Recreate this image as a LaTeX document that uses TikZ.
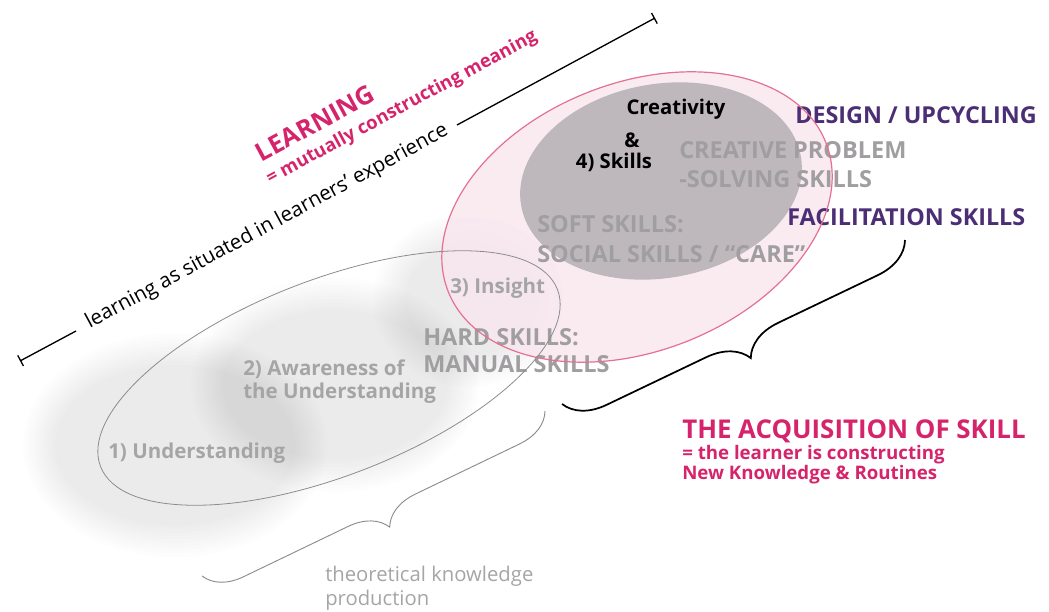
\documentclass[tikz,border=0pt]{standalone}
\usepackage{fontspec}
\setmainfont{Open Sans}
\usepackage{xcolor}
\usetikzlibrary{decorations.pathreplacing,arrows.meta}

\definecolor{inkpink}{RGB}{214,36,108}
\definecolor{inkpurple}{RGB}{76,46,116}
\definecolor{skillgrey}{RGB}{160,158,160}
\definecolor{stagegrey}{RGB}{165,165,165}
\definecolor{rimgrey}{RGB}{140,140,140}
\definecolor{rimpink}{RGB}{228,112,146}
\definecolor{blushfill}{RGB}{249,231,239}
\definecolor{corefill}{RGB}{190,184,188}

\begin{document}
\begin{tikzpicture}[
  x=0.75pt, y=-0.75pt,
  haze/.style={fill=black, fill opacity=0.0075, draw=none},
  skill/.style={font=\bfseries\fontsize{17.6pt}{#1}\selectfont, text=skillgrey, align=left, anchor=base west, inner sep=0pt},
  stage/.style={font=\bfseries\fontsize{15.4pt}{17.25pt}\selectfont, text=stagegrey, align=left, anchor=base west, inner sep=0pt},
  core/.style={font=\bfseries\fontsize{15.2pt}{18pt}\selectfont, text=black, anchor=base, inner sep=0pt},
  aim/.style={font=\bfseries\fontsize{17.5pt}{21pt}\selectfont, text=inkpurple, anchor=base west, inner sep=0pt},
  slant/.style={rotate=28.4, inner sep=0pt},
  brace/.style={decorate, decoration={brace, amplitude=#1}},
]
\useasboundingbox (0,0) rectangle (1049,611);

% Background haze
\foreach \cx/\cy/\rx/\ry in {175/445/152/112, 335/385/144/107, 470/300/97/87}
  \foreach \k in {0,...,9}
    \path[haze] (\cx,\cy) ellipse ({\rx-3.5*\k} and {\ry-3.5*\k});

% Skill zone
\path[fill=blushfill, fill opacity=0.85, rotate around={21.5:(637,217)}] (637,217) ellipse (203 and 134);
\path[fill=corefill, rotate around={10:(661,181)}] (661,181) ellipse (142 and 97);

% Texts
\node[core] (creat) at (676,114) {Creativity};
\node[core] (amp) at (632,147) {\&};
\node[core] (four) at (614,168) {4) Skills};
\node[skill=21.75pt] (cps) at (679,187) {CREATIVE PROBLEM\\-SOLVING SKILLS};
\node[skill=22.5pt] (soft) at (537,262) {SOFT SKILLS:\\SOCIAL SKILLS / “CARE”};
\node[skill=20.25pt] (hard) at (423,372) {HARD SKILLS:\\MANUAL SKILLS};
\node[aim] (design) at (795,123) {DESIGN / UPCYCLING};
\node[aim] (facil) at (787,225) {FACILITATION SKILLS};
\node[stage] (insight) at (450,293) {3) Insight};
\node[stage] (aware) at (243,398) {2) Awareness of\\the Understanding};
\node[stage] (under) at (108,458) {1) Understanding};

% Outlines
\draw[rimgrey, line width=0.6pt, rotate around={21.2:(329,378)}] (329,378) ellipse (245 and 98);
\draw[rimpink, line width=0.9pt, rotate around={21.5:(637,217)}] (637,217) ellipse (203 and 134);

% Learning axis
\coordinate (axA) at (20,361);
\coordinate (axB) at (76,331);
\coordinate (axC) at (457,125);
\coordinate (axD) at (655,18);
\draw[line width=1pt, {Bar[width=9pt]}-] (axA) -- (axB);
\draw[line width=1pt, -{Bar[width=9pt]}] (axC) -- (axD);
\node[slant, font=\fontsize{15.4pt}{18pt}\selectfont] (situated) at (267,227) {learning as situated in learners’ experience};
\node[slant, font=\bfseries\fontsize{19pt}{22pt}\selectfont, text=inkpink] (learning) at (315,123) {LEARNING};
\node[slant, font=\bfseries\fontsize{13.8pt}{16pt}\selectfont, text=inkpink] (mutual) at (402,108) {= mutually constructing meaning};

% Braces
\coordinate (skR) at (905,240);
\coordinate (skL) at (562,404);
\coordinate (thR) at (545,411);
\coordinate (thL) at (202,576);
\draw[brace=30pt, line width=1.3pt] (skR) -- (skL);
\draw[brace=28pt, rimgrey, line width=0.7pt] (thR) -- (thL);

\node[font=\bfseries\fontsize{19.4pt}{25pt}\selectfont, text=inkpink, anchor=base west, inner sep=0pt] (acq) at (682,438) {THE ACQUISITION OF SKILL};
\node[font=\bfseries\fontsize{14pt}{15pt}\selectfont, text=inkpink, align=left, anchor=base west, inner sep=0pt] (acqsub) at (682,479) {= the learner is constructing\\New Knowledge \& Routines};
\node[font=\fontsize{15.2pt}{18pt}\selectfont, text=stagegrey, align=left, anchor=base west, inner sep=0pt] (theo) at (325,605) {theoretical knowledge\\production};
\end{tikzpicture}
\end{document}
